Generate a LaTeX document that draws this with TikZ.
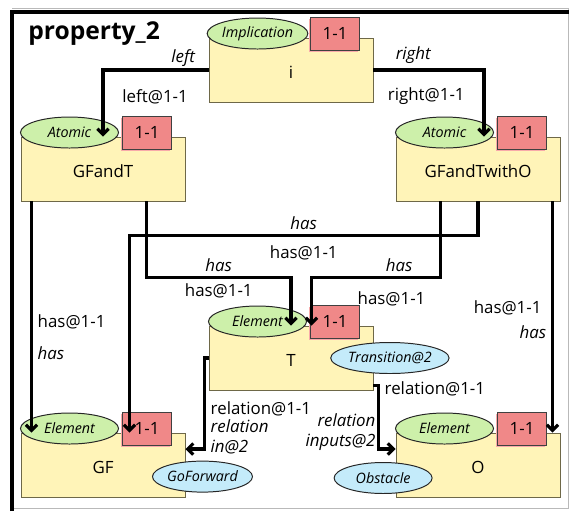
\documentclass[tikz,border=0pt]{standalone}
\usepackage{fontspec}
\setmainfont{Open Sans}
\usepackage{tikz}
\usetikzlibrary{shapes.geometric,arrows.meta,shadows}

\definecolor{boxfill}{RGB}{255,244,184}
\definecolor{boxline}{RGB}{110,104,72}
\definecolor{typefill}{RGB}{205,240,170}
\definecolor{cardfill}{RGB}{240,136,136}
\definecolor{cardshade}{RGB}{248,170,170}
\definecolor{rolefill}{RGB}{196,235,250}

\tikzset{
  objbox/.style={draw=boxline, fill=boxfill, line width=0.7pt, minimum width=4.1cm,
    minimum height=1.6cm, inner sep=0pt, text height=12.4pt, text depth=0pt,
    font=\fontsize{12}{14}\selectfont},
  typeell/.style={ellipse, draw=black!85, fill=typefill, line width=0.7pt, minimum width=2.45cm,
    minimum height=0.775cm, inner sep=0pt, font=\fontsize{10.2}{12}\selectfont\itshape},
  roleell/.style={typeell, fill=rolefill},
  cardbox/.style={draw=black!75, fill=cardfill, line width=0.7pt, minimum width=1.225cm,
    minimum height=0.825cm, inner sep=0pt, font=\fontsize{12}{14}\selectfont,
    drop shadow={shadow xshift=-1pt, shadow yshift=-1pt, fill=cardshade, opacity=1}},
  link/.style={-{Straight Barb[length=4pt,width=8pt]}, line width=2.2pt},
  lbl/.style={font=\fontsize{12}{14}\selectfont},
  rolelbl/.style={font=\fontsize{12}{14}\selectfont\itshape},
}

\begin{document}
\begin{tikzpicture}
\useasboundingbox (0cm,0cm) rectangle (14.225cm,-12.775cm);
\draw[gray!55, line width=0.6pt] (0.3cm,-0.22cm) -- (14.2cm,-0.22cm) -- (14.2cm,-12.7cm) -- (0.3cm,-12.7cm);
\draw[line width=2.6pt] (0.3cm,-12.775cm) -- (0.3cm,-0.3cm) -- (14.225cm,-0.3cm);
\node[anchor=west, inner sep=0pt, font=\fontsize{17.5}{20}\selectfont\bfseries] (title) at (0.7cm,-0.85cm) {property\_2};

\node[objbox] (i) at (7.275cm,-1.75cm) {i};
\node[typeell] (iType) at ([xshift=1.225cm,yshift=0.1cm]i.north west) {Implication};
\node[cardbox] (iCard) at ([xshift=-0.96cm,yshift=0.09cm]i.north east) {1-1};

\node[objbox] (GFandT) at (2.575cm,-4.225cm) {GFandT};
\node[typeell] (GFandTType) at ([xshift=1.225cm,yshift=0.1cm]GFandT.north west) {Atomic};
\node[cardbox] (GFandTCard) at ([xshift=-0.96cm,yshift=0.09cm]GFandT.north east) {1-1};

\node[objbox] (GFandTwithO) at (11.95cm,-4.225cm) {GFandTwithO};
\node[typeell] (GFandTwithOType) at ([xshift=1.225cm,yshift=0.1cm]GFandTwithO.north west) {Atomic};
\node[cardbox] (GFandTwithOCard) at ([xshift=-0.96cm,yshift=0.09cm]GFandTwithO.north east) {1-1};

\node[objbox] (T) at (7.275cm,-8.95cm) {T};
\node[typeell] (TType) at ([xshift=1.225cm,yshift=0.1cm]T.north west) {Element};
\node[cardbox] (TCard) at ([xshift=-0.96cm,yshift=0.09cm]T.north east) {1-1};
\node[roleell] (TRole) at ([xshift=0.41cm]T.east) {Transition@2};

\node[objbox] (GF) at (2.575cm,-11.625cm) {GF};
\node[typeell] (GFType) at ([xshift=1.225cm,yshift=0.1cm]GF.north west) {Element};
\node[cardbox] (GFCard) at ([xshift=-0.96cm,yshift=0.09cm]GF.north east) {1-1};
\node[roleell] (GFRole) at ([xshift=0.425cm,yshift=-0.29cm]GF.east) {GoForward};

\node[objbox] (O) at (11.95cm,-11.625cm) {O};
\node[typeell] (OType) at ([xshift=1.225cm,yshift=0.1cm]O.north west) {Element};
\node[cardbox] (OCard) at ([xshift=-0.96cm,yshift=0.09cm]O.north east) {1-1};
\node[roleell] (ORole) at ([xshift=-0.31cm,yshift=-0.325cm]O.west) {Obstacle};

\draw[link] (i.west) -| node[rolelbl, pos=0.12, above, yshift=-0.08cm] {left}
  node[lbl, pos=0.7, right, xshift=0.33cm] {left@1-1} (GFandT.north);
\draw[link] (i.east) -| node[rolelbl, pos=0.18, above] {right}
  node[lbl, pos=0.7, left, xshift=-0.33cm] {right@1-1} ([xshift=0.15cm]GFandTwithO.north);

\draw[link] ([xshift=0.275cm]GFandT.south west) -- node[lbl, pos=0.52, right] {has@1-1}
  node[rolelbl, pos=0.655, right] {has} ([xshift=0.275cm]GF.north west);
\draw[link] (GFandTwithO.south) -- ++(0cm,-0.85cm) -| node[rolelbl, pos=0.25, above] {has}
  node[lbl, pos=0.25, below, yshift=-0.1cm] {has@1-1} ([xshift=2.725cm]GF.north west);
\draw[link] ([xshift=3.15cm]GFandT.south west) -- ++(0cm,-1.9cm) -| node[rolelbl, pos=0.25, above] {has}
  node[lbl, pos=0.25, below] {has@1-1} (T.north);
\draw[link] ([xshift=1.125cm]GFandTwithO.south west) -- ++(0cm,-1.9cm) -| node[rolelbl, pos=0.16, above] {has}
  node[lbl, pos=0.19, below, yshift=-0.2cm] {has@1-1} ([xshift=2.575cm]T.north west);
\draw[link] ([xshift=-0.2cm]GFandTwithO.south east) -- node[lbl, pos=0.46, left, xshift=-0.12cm] {has@1-1}
  node[rolelbl, pos=0.565, left] {has} ([xshift=-0.2cm]O.north east);

\draw[link] (T.west) -- ++(-0.1cm,0cm) |- node[lbl, pos=0.28, right] {relation@1-1}
  node[rolelbl, pos=0.435, right, align=left] {relation\\in@2} ([yshift=0.4cm]GF.east);
\draw[link] ([yshift=0.125cm]T.south east) -- ++(0.125cm,0cm) |- node[lbl, pos=0.03, right] {relation@1-1}
  node[rolelbl, pos=0.365, left, align=right, xshift=0.08cm] {relation\\inputs@2} ([yshift=0.4cm]O.west);
\end{tikzpicture}
\end{document}
